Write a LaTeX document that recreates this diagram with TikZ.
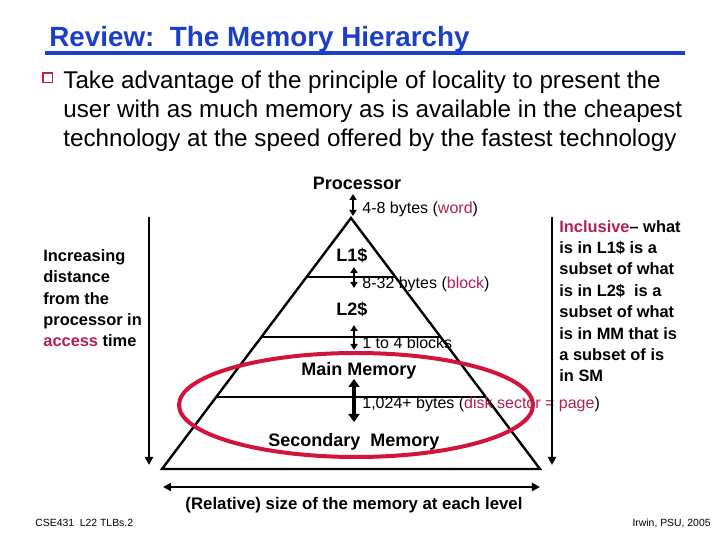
\documentclass[tikz,border=0pt]{standalone}
\usepackage{fontspec}
\setmainfont{Liberation Sans}
\usepackage{tikz}
\usetikzlibrary{arrows.meta,positioning,calc}
\definecolor{titleblue}{HTML}{1A40C8}
\definecolor{hotred}{HTML}{B42050}
\definecolor{ringred}{HTML}{D2143C}
\definecolor{bulletred}{HTML}{C8203C}

\begin{document}
\begin{tikzpicture}[x=0.5pt,y=-0.5pt,
    lvl/.style={font=\fontsize{9}{11}\selectfont\bfseries, inner sep=0pt, anchor=base},
    xfer/.style={font=\fontsize{8}{10}\selectfont, inner sep=0pt, anchor=base west},
    side/.style={font=\fontsize{8.2}{10.7}\selectfont\bfseries, inner sep=0pt,
      anchor=base west, align=left},
    tiny/.style={font=\fontsize{5.2}{6}\selectfont, inner sep=0pt},
    dbl/.style={line width=1pt, {Triangle[length=3pt,width=3.5pt]}-{Triangle[length=3pt,width=3.5pt]}},
    axis/.style={line width=1.1pt, -{Triangle[length=4pt,width=4pt]}}]
  \useasboundingbox (0,0) rectangle (720,540);

  % Title
  \node[font=\fontsize{13.9}{16}\selectfont\bfseries, text=titleblue, inner sep=0pt,
    anchor=base west] (title) at (49,47) {Review:\ \ The Memory Hierarchy};
  \fill[titleblue] (45,51) rectangle (685,55);

  % Bullet (node base sits on the last line)
  \node[draw=bulletred, fill=white, line width=0.9pt, minimum size=4.6pt, inner sep=0pt]
    (bul) at (48,78) {};
  \node[font=\fontsize{12.1}{14.5}\selectfont, inner sep=0pt, anchor=base west, align=left]
    (intro) at (63,147) {Take advantage of the principle of locality to present the\\
    user with as much memory as is available in the cheapest\\
    technology at the speed offered by the fastest technology};

  % Pyramid
  \coordinate (apex) at (351,218);
  \coordinate (bl) at (162,469);
  \coordinate (br) at (540,469);
  \draw[line width=1.2pt, line join=miter] (apex) -- (bl) -- (br) -- cycle;
  \draw[line width=1.2pt] ($(apex)!0.235!(bl)$) -- ($(apex)!0.235!(br)$);
  \draw[line width=1.2pt] ($(apex)!0.474!(bl)$) -- ($(apex)!0.474!(br)$);
  \draw[line width=1.2pt] ($(apex)!0.713!(bl)$) -- ($(apex)!0.713!(br)$);

  % Inclusion ring
  \draw[ringred, line width=2pt] (356,405) ellipse [x radius=177, y radius=52];

  % Levels
  \node[lvl] (proc) at (357,190) {Processor};
  \node[lvl] (lone) at (352,262) {L1\$};
  \node[lvl] (ltwo) at (352,316) {L2\$};
  \node[lvl] (mainmem) at (359,376) {Main Memory};
  \node[lvl] (secmem) at (354,447) {Secondary\ \ Memory};

  % Transfer arrows
  \coordinate (pa) at (353,194);
  \coordinate (pb) at (353,216);
  \coordinate (la) at (354,267);
  \coordinate (lb) at (354,288);
  \coordinate (ma) at (354,325);
  \coordinate (mb) at (354,350);
  \coordinate (sa) at (354,379);
  \coordinate (sb) at (354,422);
  \draw[dbl] (pa) -- (pb);
  \draw[dbl] (la) -- (lb);
  \draw[dbl] (ma) -- (mb);
  \draw[line width=2pt, {Triangle[length=4pt,width=5.5pt]}-{Triangle[length=4pt,width=5.5pt]}]
    (sa) -- (sb);

  \node[xfer] (wordlbl) at (362,214) {4-8 bytes (\textcolor{hotred}{word})};
  \node[xfer] (blocklbl) at (362,289) {8-32 bytes (\textcolor{hotred}{block})};
  \node[xfer] (blockslbl) at (362,349) {1 to 4 blocks};
  \node[xfer] (pagelbl) at (362,409) {1,024+ bytes (\textcolor{hotred}{disk sector = page})};

  % Side arrows
  \coordinate (ltop) at (149,217);
  \coordinate (lbot) at (149,465);
  \coordinate (rtop) at (552,217);
  \coordinate (rbot) at (552,465);
  \draw[axis] (ltop) -- (lbot);
  \draw[axis] (rtop) -- (rbot);
  \coordinate (sl) at (163,487);
  \coordinate (sr) at (540,487);
  \draw[line width=1.1pt, {Triangle[length=4pt,width=4pt]}-{Triangle[length=4pt,width=4pt]}]
    (sl) -- (sr);

  \node[side] (distlbl) at (43,347) {Increasing\\distance\\from the\\processor in\\
    \textcolor{hotred}{access} time};
  \node[side] (incllbl) at (559,382) {\textcolor{hotred}{Inclusive}-- what\\is in L1\$ is a\\
    subset of what\\is in L2\$\ \ is a\\subset of what\\is in MM that is\\a subset of is\\in SM};

  \node[font=\fontsize{8.4}{10}\selectfont\bfseries, inner sep=0pt, anchor=base]
    (sizelbl) at (354,510) {(Relative) size of the memory at each level};

  % Footer
  \node[tiny, anchor=base west] (footl) at (35,527) {CSE431\ \ L22 TLBs.2};
  \node[tiny, anchor=base east] (footr) at (711,527) {Irwin, PSU, 2005};
\end{tikzpicture}
\end{document}
